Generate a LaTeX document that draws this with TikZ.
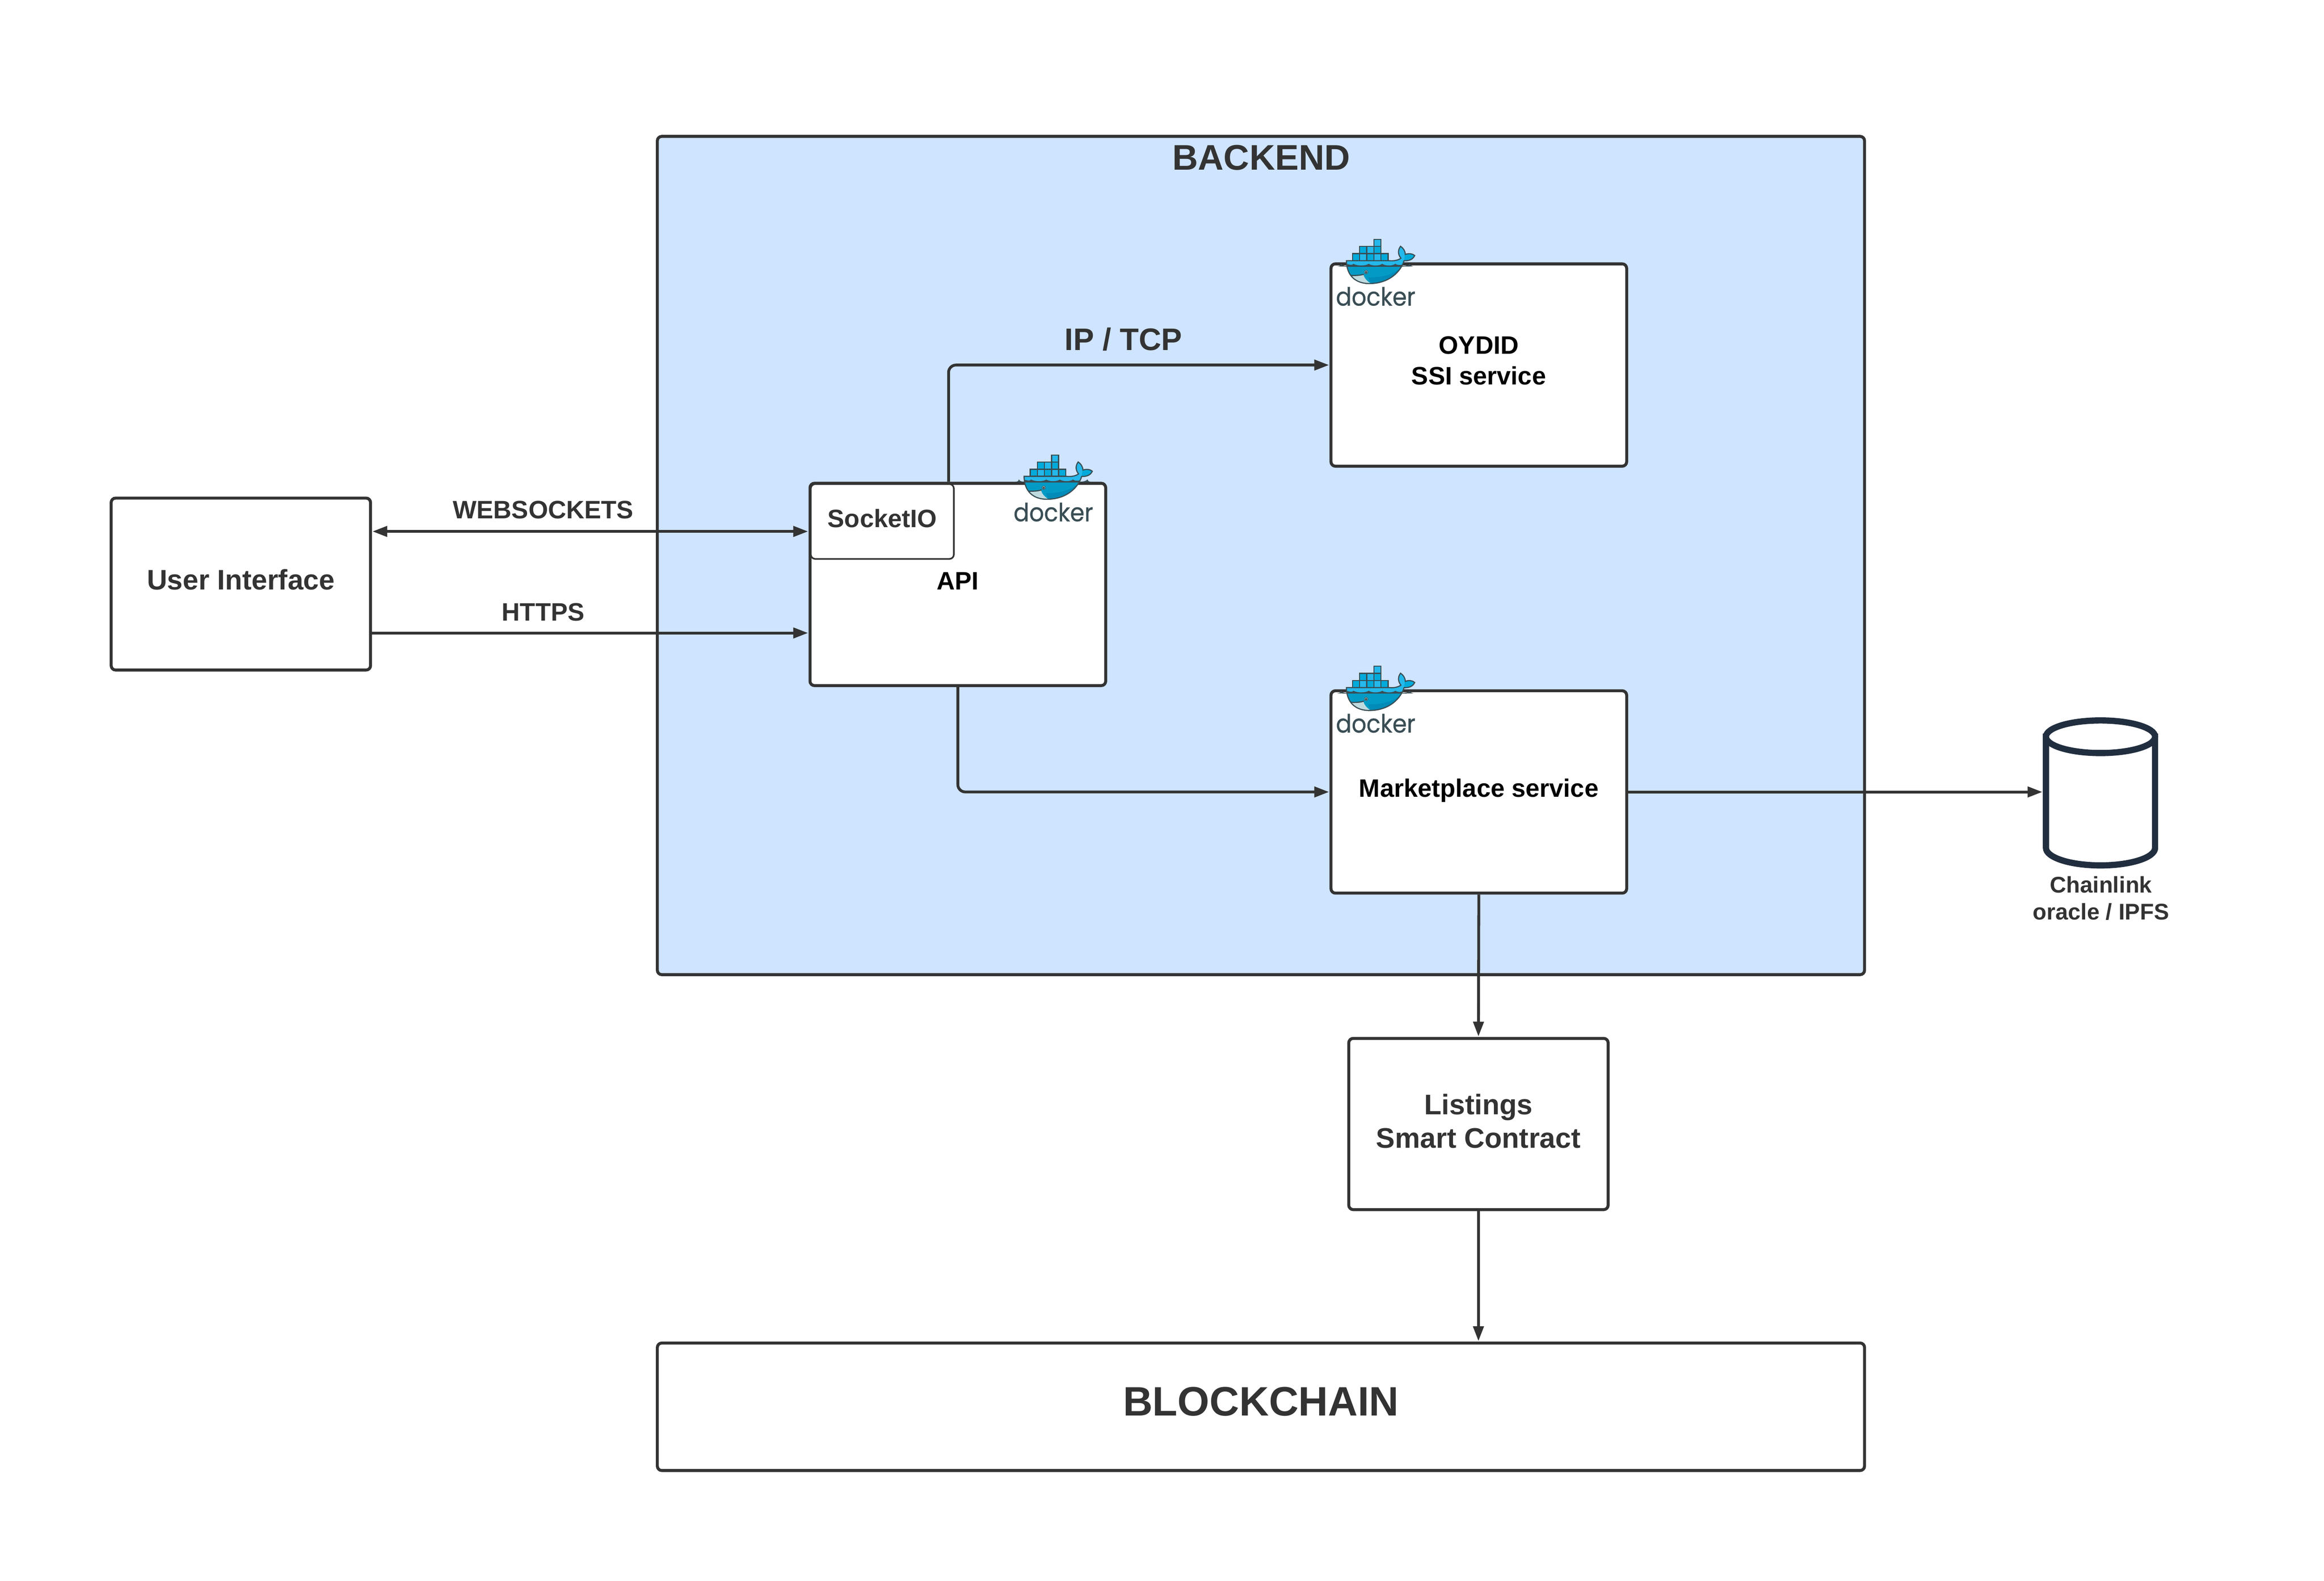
\documentclass[tikz,border=0pt]{standalone}
\usepackage{fontspec}
\setmainfont{Liberation Sans}
\newfontfamily\dockerfont[FakeStretch=0.92,FakeBold=0.6]{Poppins}
\usetikzlibrary{arrows.meta,calc}
\definecolor{ink}{HTML}{333333}
\definecolor{backfill}{HTML}{CFE4FF}
\definecolor{cyl}{HTML}{212E3F}
\definecolor{dkstroke}{HTML}{394D54}
\definecolor{dka}{HTML}{00AADA}
\definecolor{dkb}{HTML}{24B8EB}
\definecolor{dkc}{HTML}{039BC6}
\definecolor{dkd}{HTML}{008BB8}
\definecolor{dke}{HTML}{BFDBE0}
\tikzset{
  box/.style={draw=ink,line width=2pt,rounded corners=3pt,fill=white,inner sep=0pt,
    text=black,font=\fontsize{17}{20.5}\selectfont\bfseries,align=center,text depth=0pt},
  txt/.style={text=ink,inner sep=0pt,align=center,font=\bfseries},
  flow/.style={draw=ink,line width=1.9pt,rounded corners=5pt,
    -{Triangle[length=10pt,width=7pt]},shorten >=0.3pt},
  flowboth/.style={flow,{Triangle[length=10pt,width=7pt]}-{Triangle[length=10pt,width=7pt]},shorten <=0.3pt},
}
\newcommand{\dkbody}{(368,377) -- (745,377) .. controls (790,382) and (830,372) .. (850,355)
  .. controls (825,325) and (820,285) .. (847,250) .. controls (870,265) and (888,290) .. (889,322)
  .. controls (920,310) and (955,315) .. (972,332) .. controls (955,370) and (915,380) .. (878,378)
  .. controls (850,470) and (750,580) .. (570,580) .. controls (450,580) and (368,510) .. (368,377) -- cycle}
\newcommand{\dkcube}[3]{\filldraw[fill=#3,draw=dkstroke,line width=.75pt] (#1,#2) rectangle ++(63,63);}
\newcommand{\dockerlogo}[3]{%
\begin{scope}[shift={(#1,#2)},x=0.0762pt,y=-0.0762pt]
  \fill[dkstroke] (285,428) .. controls (310,425) and (320,418) .. (322,403) .. controls (326,418) and (345,425) .. (368,424) -- (368,430) -- cycle;
  \fill[dkstroke] (858,424) .. controls (890,425) and (925,418) .. (928,403) .. controls (932,418) and (945,425) .. (962,428) -- (858,430) -- cycle;
  \dkcube{422}{314}{dka}\dkcube{485}{314}{dkb}\dkcube{548}{314}{dka}\dkcube{611}{314}{dkb}\dkcube{674}{314}{dka}
  \dkcube{485}{251}{dka}\dkcube{548}{251}{dkb}\dkcube{611}{251}{dka}
  \dkcube{611}{188}{dkb}
  \fill[dkb] \dkbody;
  \fill[dka] (885,330) .. controls (920,312) and (955,315) .. (972,332) .. controls (955,370) and (915,380) .. (878,378) -- cycle;
  \begin{scope}
    \clip \dkbody;
    \fill[dkstroke] (360,405) .. controls (385,408) and (420,425) .. (430,405)
      .. controls (460,425) and (540,425) .. (565,405) .. controls (590,425) and (660,425) .. (685,405)
      .. controls (710,425) and (780,425) .. (800,405) .. controls (820,420) and (850,420) .. (880,405)
      -- (880,440) -- (360,440) -- cycle;
    \fill[dkc] (360,431) rectangle (880,600);
    \fill[dkd] (860,431) .. controls (800,490) and (700,530) .. (560,525) -- (590,600) -- (860,600) -- cycle;
    \fill[dke] (405,505) .. controls (450,510) and (490,508) .. (518,500) .. controls (525,530) and (550,560) .. (585,580) -- (470,585) -- (405,530) -- cycle;
  \end{scope}
  \draw[dkstroke,line width=.75pt] (405,508) .. controls (450,510) and (490,508) .. (522,497);
  \draw[dkstroke,line width=.75pt] \dkbody;
  \filldraw[fill=white,draw=dkstroke,line width=.3pt] (542,478) circle (15);
  \fill[dkstroke] (542,479) circle (10);
  \node[anchor=base,inner sep=0pt,text=dkstroke,font=\dockerfont\fontsize{17}{20}\selectfont] (#3) at (627,775) {docker};
\end{scope}}
\begin{document}
\begin{tikzpicture}[x=1pt,y=-1pt]
\useasboundingbox[fill=white] (0,0) rectangle (1568,1066.4);
% frames
\node[box,fill=backfill,minimum width=814.5pt,minimum height=565.5pt] (backend) at (850.75,374.75) {};
\node[txt,font=\fontsize{24}{28}\selectfont\bfseries] (backendlabel) at (851,106.5) {BACKEND};
\node[box,text=ink,text height=7.8pt,font=\fontsize{19}{22}\selectfont\bfseries,minimum width=175pt,minimum height=116pt] (ui) at (162.5,394) {User Interface};
\node[box,text height=6.9pt,minimum width=199.5pt,minimum height=136.5pt] (api) at (646.25,394.25) {API};
\node[box,text height=26.4pt,minimum width=199.5pt,minimum height=136.5pt] (oydid) at (997.75,246.25) {OYDID\\SSI service};
\node[box,text height=7pt,minimum width=199.5pt,minimum height=136.5pt] (market) at (997.75,534.25) {Marketplace service};
\node[box,text=ink,text height=32.2pt,font=\fontsize{19.1}{22.5}\selectfont\bfseries,minimum width=175pt,minimum height=115.5pt] (listings) at (997.5,758.25) {Listings\\Smart Contract};
\node[box,text=ink,text height=12.2pt,font=\fontsize{27.7}{32}\selectfont\bfseries,minimum width=814.5pt,minimum height=86pt] (chain) at (850.75,949) {BLOCKCHAIN};
% connectors
\coordinate (wsy) at (0,358.5);
\coordinate (httpy) at (0,427);
\coordinate (tcpx) at (640,0);
\draw[flowboth] (ui.east |- wsy) -- (api.west |- wsy);
\draw[flow] (ui.east |- httpy) -- (api.west |- httpy);
\draw[flow] (tcpx |- api.north) |- (oydid.west);
\draw[flow] (api.south) |- (market.west);
\draw[flow] (market.south) -- (listings.north);
\draw[flow] (listings.south) -- (listings.south |- chain.north);
% cylinder
\node[minimum width=73.6pt,minimum height=86pt,inner sep=0pt] (oracle) at (1417.2,534) {};
\draw[flow,rounded corners=0pt,shorten >=2.2pt] (market.east) -- (oracle.west |- market.east);
\filldraw[fill=white,draw=cyl,line width=4.2pt] (1380.4,497) -- (1380.4,572) arc[start angle=180,end angle=0,x radius=36.8,y radius=11.8] -- (1454,497) -- cycle;
\filldraw[fill=white,draw=cyl,line width=4.2pt] (1417.2,497) circle[x radius=36.8,y radius=11];
\node[txt,font=\fontsize{15.3}{18}\selectfont\bfseries] (oraclelabel) at (1417.5,606) {Chainlink\\oracle / IPFS};
% SocketIO
\node[box,line width=1.1pt,text=ink,text height=7.9pt,minimum width=96.5pt,minimum height=50.5pt,anchor=north west] (socket) at (546.5,326) {SocketIO};
% edge labels
\node[txt,font=\fontsize{17}{20}\selectfont\bfseries] (wslabel) at (366.5,344) {WEBSOCKETS};
\node[txt,font=\fontsize{17}{20}\selectfont\bfseries] (httpslabel) at (366.5,413) {HTTPS};
\node[txt,font=\fontsize{21}{24}\selectfont\bfseries] (tcplabel) at (758,229) {IP / TCP};
% logos
\dockerlogo{662.9}{292.6}{dockera}
\dockerlogo{880.4}{147.1}{dockerb}
\dockerlogo{880.4}{435.1}{dockerc}
\end{tikzpicture}
\end{document}
